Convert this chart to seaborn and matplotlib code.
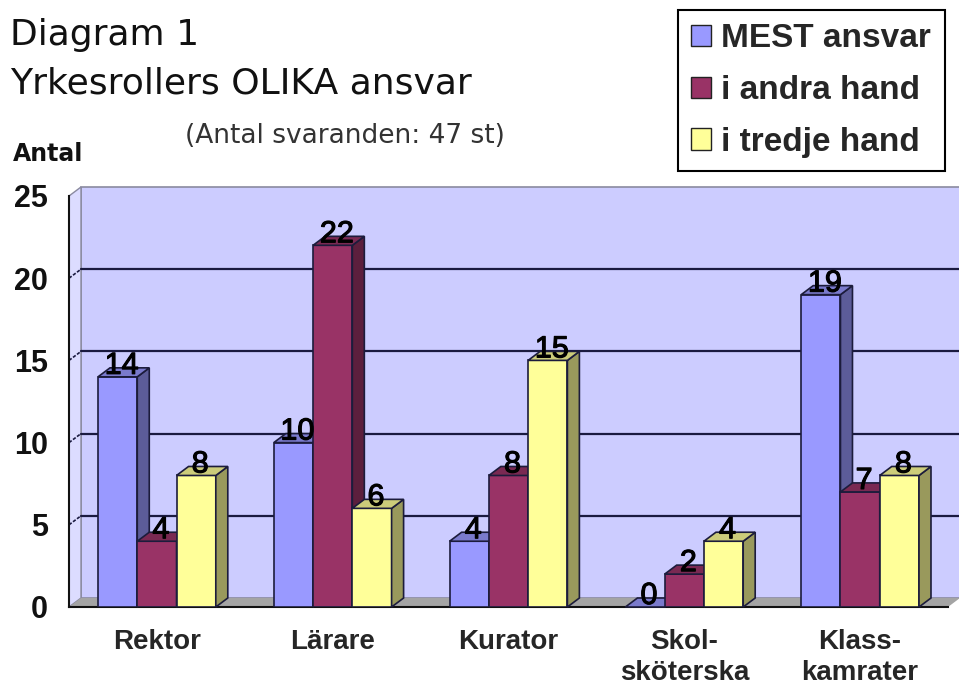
import numpy as np
import pandas as pd
import matplotlib
matplotlib.use("Agg")
import matplotlib.pyplot as plt
import matplotlib.colors as mcolors
import matplotlib.transforms as mtransforms
from matplotlib.patches import Polygon, Patch
from matplotlib.lines import Line2D
import matplotlib.patheffects as pe
import seaborn as sns

# data
roles = ["Rektor", "Lärare", "Kurator", "Skol-\nsköterska", "Klass-\nkamrater"]
series = ["MEST ansvar", "i andra hand", "i tredje hand"]
mest = [14, 10, 4, 0, 19]
andra = [4, 22, 8, 2, 7]
tredje = [8, 6, 15, 4, 8]
colors = ["#9999FF", "#993366", "#FFFF99"]
yticks = [0, 5, 10, 15, 20, 25]

df = pd.DataFrame({
    "roll": roles * 3,
    "serie": np.repeat(series, len(roles)),
    "antal": mest + andra + tredje,
})

sns.set_style("white")
arial = "Liberation Sans"

W, H = 959, 691
fig = plt.figure(figsize=(W / 100, H / 100), dpi=100)
ax = fig.add_axes([69 / W, 84 / H, 879 / W, 411 / H])
ax.set_facecolor("none")

edge = "#1c1c3c"
sns.barplot(data=df, x="roll", y="antal", hue="serie", palette=colors,
            saturation=1, width=0.67, edgecolor=edge, linewidth=1.2,
            legend=False, ax=ax)
ax.set_xlim(-0.5, 4.5)
ax.set_ylim(0, 25)

# fake 3D depth, in pixels
DX, DY = 12, 9
xmin, xmax = -0.5, 4.5
ytop = 25


def P(x, y, back=False):
    p = ax.transData.transform((x, y))
    if back:
        p = p + np.array([DX, DY])
    return p


ident = mtransforms.IdentityTransform()


def poly(pts, fc, ec="none", lw=0, z=1):
    ax.add_patch(Polygon(np.array(pts), closed=True, facecolor=fc, edgecolor=ec,
                         linewidth=lw, transform=ident, zorder=z, clip_on=False))


def shade(c, f):
    r, g, b = mcolors.to_rgb(c)
    return (r * f, g * f, b * f)


# walls and floor
poly([P(xmin, 0, True), P(xmax, 0, True), P(xmax, ytop, True), P(xmin, ytop, True)],
     "#CCCCFF", "#8a8aa0", 1.2, z=0.2)
poly([P(xmin, 0), P(xmin, 0, True), P(xmin, ytop, True), P(xmin, ytop)],
     "#DCDCFF", "#8a8aa0", 1.0, z=0.3)
poly([P(xmin, 0), P(xmax, 0), P(xmax, 0, True), P(xmin, 0, True)],
     "#A4A4A4", "none", 0, z=0.6)

for y in yticks[1:-1]:
    a, b = P(xmin, y, True), P(xmax, y, True)
    ax.add_line(Line2D([a[0], b[0]], [a[1], b[1]], color="#1a1a40", lw=1.6,
                       transform=ident, zorder=0.5, clip_on=False))
    c = P(xmin, y)
    ax.add_line(Line2D([c[0], a[0]], [c[1], a[1]], color="#1a1a40", lw=1.2,
                       ls=(0, (2, 1)), transform=ident, zorder=0.5, clip_on=False))

# bar sides, tops and value labels
for i, cont in enumerate(ax.containers):
    for bar in cont:
        x0, w, h = bar.get_x(), bar.get_width(), bar.get_height()
        fc = bar.get_facecolor()
        bar.set_zorder(3 + 2 * i)
        x1 = x0 + w
        poly([P(x1, 0), P(x1, h), P(x1, h, True), P(x1, 0, True)],
             shade(fc, 0.6), edge, 1.2, z=4 + 2 * i)
        poly([P(x0, h), P(x1, h), P(x1, h, True), P(x0, h, True)],
             shade(fc, 0.8), edge, 1.2, z=4 + 2 * i)
        ax.annotate(f"{h:.0f}", (x0 + w / 2, h), xytext=(4, 11),
                    textcoords="offset pixels", ha="center", va="center",
                    fontsize=22, family=arial, color="black", zorder=20,
                    annotation_clip=False,
                    path_effects=[pe.withStroke(linewidth=0.8, foreground="black")])

# axes
for s in ["top", "right"]:
    ax.spines[s].set_visible(False)
for s in ["left", "bottom"]:
    ax.spines[s].set_color("#111111")
    ax.spines[s].set_linewidth(1.5)
    ax.spines[s].set_zorder(2.5)

ax.set_yticks(yticks)
ax.set_yticklabels([str(t) for t in yticks], fontsize=22, fontweight="bold", family=arial)
ax.tick_params(axis="y", length=5, width=1.5, pad=10, colors="#111111")

ax.set_xticks(np.arange(xmin, xmax + 0.1, 1.0), labels=[""] * 6)
ax.set_xticks(range(len(roles)), labels=roles, minor=True)
ax.tick_params(axis="x", which="major", length=5, width=1.5, colors="#111111")
ax.tick_params(axis="x", which="minor", length=0, pad=16)
for lab in ax.get_xticklabels(minor=True):
    lab.set_fontsize(20)
    lab.set_fontweight("bold")
    lab.set_family(arial)
    lab.set_linespacing(1.25)
ax.set_xlabel("")
ax.set_ylabel("")

# titles
fig.text(10 / W, 1 - 45 / H, "Diagram 1", va="baseline", ha="left",
         fontsize=26, family="DejaVu Sans", color="#111111")
fig.text(10 / W, 1 - 93 / H, "Yrkesrollers OLIKA ansvar", va="baseline", ha="left",
         fontsize=26, family="DejaVu Sans", color="#111111")
fig.text(185 / W, 1 - 143 / H, "(Antal svaranden: 47 st)", va="baseline", ha="left",
         fontsize=19, family="DejaVu Sans", color="#333333")
fig.text(13 / W, 1 - 161 / H, "Antal", va="baseline", ha="left",
         fontsize=17, fontweight="bold", family="DejaVu Sans", color="#111111")

# legend
handles = [Patch(facecolor=c, edgecolor="#222222", label=s) for c, s in zip(colors, series)]
leg = fig.legend(handles=handles, loc="upper left", bbox_to_anchor=(678 / W, 1 - 10 / H),
                 frameon=True, fancybox=False, framealpha=1, edgecolor="black",
                 prop={"family": arial, "weight": "bold", "size": 24},
                 handlelength=0.6, handleheight=0.6, handletextpad=0.3,
                 labelspacing=0.62, borderpad=0.4, borderaxespad=0)
leg.get_frame().set_linewidth(1.5)

fig.savefig("out.png", dpi=100)
